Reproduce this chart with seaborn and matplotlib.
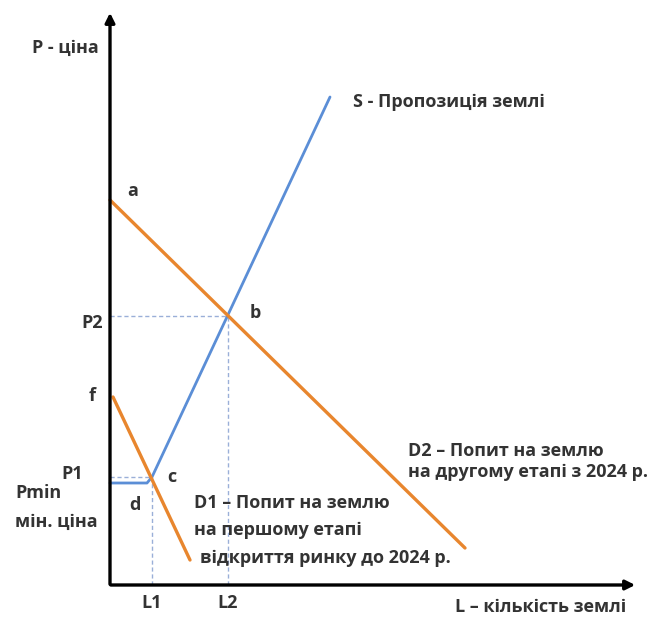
import matplotlib
matplotlib.use("Agg")
import matplotlib.pyplot as plt
import seaborn as sns
import pandas as pd

# Data (quantity L, price P)
s_q = [0, 37, 42, 220]          # supply of land
s_p = [102, 102, 108, 488]
d1_q = [3, 80]                   # demand D1
d1_p = [188, 25]
d2_q = [0, 355]                  # demand D2
d2_p = [385, 37]
c_pt = (42, 108)                 # equilibrium c (L1, P1)
b_pt = (118, 269)                # equilibrium b (L2, P2)

sns.set_theme(style="white")
plt.rcParams['font.family'] = ['Open Sans', 'DejaVu Sans']

fig = plt.figure(figsize=(6.67, 6.21), dpi=100)
ax = fig.add_axes([0, 0, 1, 1])
ax.set_xlim(-110, 557)
ax.set_ylim(-36, 585)

orange = "#E8862E"
blue = "#5B8ED6"
dash = "#9AAFD8"

# guide lines
ax.plot([0, c_pt[0]], [c_pt[1], c_pt[1]], ls=(0, (3, 2)), color=dash, lw=1)
ax.plot([c_pt[0], c_pt[0]], [0, c_pt[1]], ls=(0, (3, 2)), color=dash, lw=1)
ax.plot([0, b_pt[0]], [b_pt[1], b_pt[1]], ls=(0, (3, 2)), color=dash, lw=1)
ax.plot([b_pt[0], b_pt[0]], [0, b_pt[1]], ls=(0, (3, 2)), color=dash, lw=1)

df_s = pd.DataFrame({"L": s_q, "P": s_p})
df_d1 = pd.DataFrame({"L": d1_q, "P": d1_p})
df_d2 = pd.DataFrame({"L": d2_q, "P": d2_p})
sns.lineplot(data=df_s, x="L", y="P", ax=ax, color=blue, lw=2, sort=False)
sns.lineplot(data=df_d1, x="L", y="P", ax=ax, color=orange, lw=2.4, sort=False)
sns.lineplot(data=df_d2, x="L", y="P", ax=ax, color=orange, lw=2.4, sort=False)
ax.set_xlim(-110, 557)
ax.set_ylim(-36, 585)
ax.axis("off")

# axes with arrows
ax.annotate("", xy=(528, 0), xytext=(-2, 0),
            arrowprops=dict(arrowstyle="-|>", color="black", lw=2.4, mutation_scale=14))
ax.annotate("", xy=(0, 575), xytext=(0, -2),
            arrowprops=dict(arrowstyle="-|>", color="black", lw=2.4, mutation_scale=14))

tc = "#333333"
fs = 13.0
kw = dict(color=tc, fontsize=fs, fontweight="bold")
ax.text(-45, 537, "P - ціна", ha="center", va="center", **kw)
ax.text(243, 483, "S - Пропозиція землі", ha="left", va="center", **kw)
ax.text(17, 394, "a", ha="left", va="center", **kw)
ax.text(-18, 262, "P2", ha="center", va="center", **kw)
ax.text(140, 272, "b", ha="left", va="center", **kw)
ax.text(-18, 189, "f", ha="center", va="center", **kw)
ax.text(-38, 111, "P1", ha="center", va="center", **kw)
ax.text(57, 108, "c", ha="left", va="center", **kw)
ax.text(-95, 92, "Pmin", ha="left", va="center", **kw)
ax.text(-95, 63, "мін. ціна", ha="left", va="center", **kw)
ax.text(25, 80, "d", ha="center", va="center", **kw)
ax.text(84, 82, "D1 – Попит на землю", ha="left", va="center", **kw)
ax.text(84, 55, "на першому етапі", ha="left", va="center", **kw)
ax.text(90, 27, "відкриття ринку до 2024 р.", ha="left", va="center", **kw)
ax.text(298, 134, "D2 – Попит на землю", ha="left", va="center", **kw)
ax.text(298, 113, "на другому етапі з 2024 р.", ha="left", va="center", **kw)
ax.text(c_pt[0], -18, "L1", ha="center", va="center", **kw)
ax.text(b_pt[0], -18, "L2", ha="center", va="center", **kw)
ax.text(345, -22, "L – кількість землі", ha="left", va="center", **kw)

fig.savefig("out.png", dpi=100)
